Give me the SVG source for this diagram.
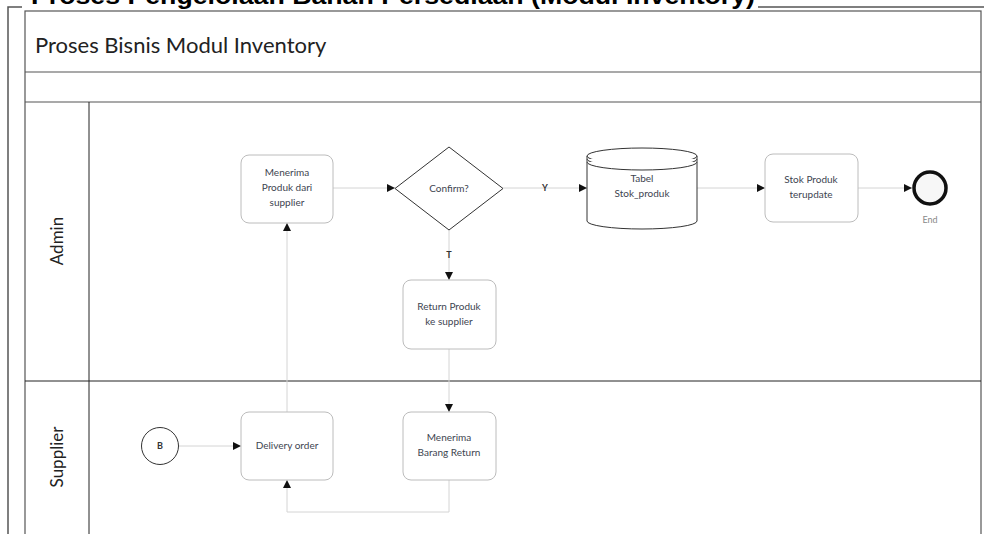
<svg xmlns="http://www.w3.org/2000/svg" width="984" height="534" viewBox="0 0 984 534">
  <style>
    .frame { fill: none; stroke: #555; stroke-width: 1.5; }
    .pool { fill: #fff; stroke: #555; stroke-width: 1.2; }
    .lane { fill: none; stroke: #222; stroke-width: 1; }
    .task { fill: #fff; stroke: #bcbcbc; stroke-width: 1; }
    .gate { fill: #fff; stroke: #333; stroke-width: 1; }
    .db { fill: #fff; stroke: #333; stroke-width: 1; }
    .flow { fill: none; stroke: #d4d4d4; stroke-width: 1; }
    .lbl { font-family: Lato, "Open Sans", sans-serif; font-size: 10px; fill: #3d4450; text-anchor: middle; }
    .gl { font-family: Lato, "Open Sans", sans-serif; font-size: 9px; font-weight: bold; fill: #333; text-anchor: middle; }
    .lanelbl { font-family: Lato, "Open Sans", sans-serif; font-size: 17px; fill: #222; text-anchor: middle; }
  </style>
  <defs>
    <marker id="arr" viewBox="0 0 10 10" refX="10" refY="5" markerWidth="8" markerHeight="8" markerUnits="userSpaceOnUse" orient="auto">
      <path d="M0,0 L10,5 L0,10 z" fill="#111"/>
    </marker>
  </defs>

  <rect width="984" height="534" fill="#fff"/>

  <!-- outer page frame -->
  <path class="frame" d="M8,534 V7 H22 M758,7 H984"/>
  <text x="31" y="4" font-family="Liberation Sans, Arial, sans-serif" font-size="23" font-weight="bold" fill="#000" textLength="724" lengthAdjust="spacingAndGlyphs">Proses Pengelolaan Bahan Persediaan (Modul Inventory)</text>

  <!-- pool with header rows and lanes -->
  <g id="pool">
    <rect class="pool" x="25" y="11" width="956" height="540"/>
    <line class="pool" x1="25" y1="72" x2="981" y2="72"/>
    <line class="pool" x1="25" y1="102" x2="981" y2="102"/>
    <text x="35" y="53" font-family="Lato, 'Open Sans', sans-serif" font-size="22" fill="#222">Proses Bisnis Modul Inventory</text>
  </g>
  <g id="lane-admin">
    <line class="lane" x1="89" y1="102" x2="89" y2="534"/>
    <line class="lane" x1="25" y1="381" x2="981" y2="381"/>
    <text class="lanelbl" transform="translate(63,241) rotate(-90)">Admin</text>
  </g>
  <g id="lane-supplier">
    <text class="lanelbl" transform="translate(63,457) rotate(-90)">Supplier</text>
  </g>

  <!-- connectors -->
  <g id="connectors">
    <path class="flow" d="M333,188 H395" marker-end="url(#arr)"/>
    <path class="flow" d="M503,188 H587" marker-end="url(#arr)"/>
    <path class="flow" d="M449,230 V280" marker-end="url(#arr)"/>
    <path class="flow" d="M697,188 H765" marker-end="url(#arr)"/>
    <path class="flow" d="M858,188 H912" marker-end="url(#arr)"/>
    <path class="flow" d="M449,349 V412" marker-end="url(#arr)"/>
    <path class="flow" d="M179,446 H241" marker-end="url(#arr)"/>
    <path class="flow" d="M449,480 V512 H287 V480" marker-end="url(#arr)"/>
    <path class="flow" d="M287,412 V223" marker-end="url(#arr)"/>
    <text class="gl" x="545" y="191">Y</text>
    <text class="gl" x="449" y="258">T</text>
  </g>

  <!-- nodes -->
  <g id="menerima-produk">
    <rect class="task" x="241" y="155" width="92" height="68" rx="8"/>
    <text class="lbl" x="287" y="176">Menerima</text>
    <text class="lbl" x="287" y="191">Produk dari</text>
    <text class="lbl" x="287" y="206">supplier</text>
  </g>
  <g id="confirm">
    <polygon class="gate" points="449,147 503,188.5 449,230 395,188.5"/>
    <text class="lbl" x="449" y="192">Confirm?</text>
  </g>
  <g id="tabel-stok">
    <path class="db" d="M587,156 V221 A55,8 0 0 0 697,221 V156 A55,8 0 0 0 587,156 Z"/>
    <path class="db" d="M587,156 A55,8 0 0 0 697,156"/>
    <path class="db" d="M587,159 A55,8 0 0 0 697,159"/>
    <path class="db" d="M587,162 A55,8 0 0 0 697,162"/>
    <text class="lbl" x="642" y="182">Tabel</text>
    <text class="lbl" x="642" y="197">Stok_produk</text>
  </g>
  <g id="stok-terupdate">
    <rect class="task" x="765" y="154" width="93" height="68" rx="8"/>
    <text class="lbl" x="811" y="183">Stok Produk</text>
    <text class="lbl" x="811" y="198">terupdate</text>
  </g>
  <g id="end">
    <circle cx="930" cy="188" r="16" fill="#f7f7f7" stroke="#111" stroke-width="3.5"/>
    <text x="930" y="223" font-family="Lato, 'Open Sans', sans-serif" font-size="9" fill="#888" text-anchor="middle">End</text>
  </g>
  <g id="return-produk">
    <rect class="task" x="403" y="280" width="93" height="69" rx="8"/>
    <text class="lbl" x="449" y="310">Return Produk</text>
    <text class="lbl" x="449" y="325">ke supplier</text>
  </g>
  <g id="start-b">
    <circle cx="160" cy="446" r="18.5" fill="#fff" stroke="#333" stroke-width="1"/>
    <text class="gl" x="160" y="449">B</text>
  </g>
  <g id="delivery-order">
    <rect class="task" x="241" y="412" width="92" height="68" rx="8"/>
    <text class="lbl" x="287" y="449">Delivery order</text>
  </g>
  <g id="menerima-return">
    <rect class="task" x="403" y="412" width="93" height="68" rx="8"/>
    <text class="lbl" x="449" y="441">Menerima</text>
    <text class="lbl" x="449" y="456">Barang Return</text>
  </g>
</svg>
